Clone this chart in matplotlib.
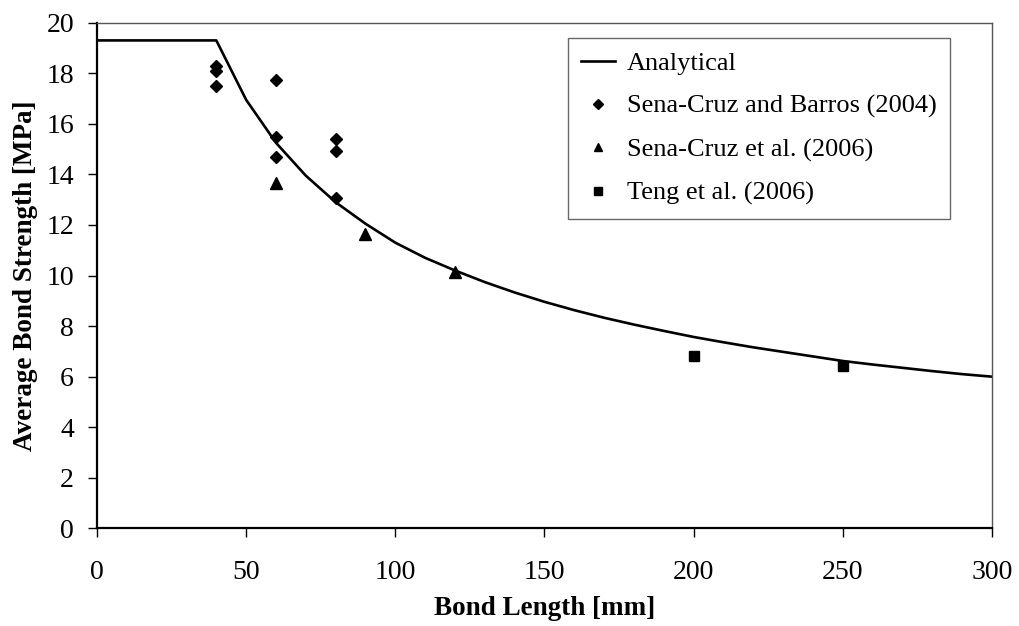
import matplotlib.pyplot as plt

plt.rcParams["font.family"] = ["Liberation Serif", "DejaVu Serif"]

# analytical curve, every 10 mm
length_model = [0, 40, 50, 60, 70, 80, 90, 100, 110, 120, 130, 140, 150, 160,
                170, 180, 190, 200, 210, 220, 230, 240, 250, 260, 270, 280, 290, 300]
strength_model = [19.3, 19.3, 16.95, 15.25, 13.95, 12.9, 12.05, 11.3, 10.7, 10.2,
                  9.74, 9.33, 8.96, 8.63, 8.33, 8.06, 7.81, 7.57, 7.36, 7.16,
                  6.98, 6.8, 6.62, 6.48, 6.35, 6.22, 6.1, 6.0]

# Sena-Cruz and Barros (2004)
length_scb = [40, 40, 40, 60, 60, 60, 80, 80, 80]
strength_scb = [18.3, 18.1, 17.5, 17.73, 15.47, 14.7, 15.4, 14.92, 13.08]

# Sena-Cruz et al. (2006)
length_sc = [60, 90, 120]
strength_sc = [13.65, 11.64, 10.15]

# Teng et al. (2006)
length_teng = [200, 250]
strength_teng = [6.83, 6.43]

fig = plt.figure(figsize=(10.2, 6.26), dpi=100)
ax = fig.add_axes([0.0951, 0.156, 0.8774, 0.8077])

ax.plot(length_model, strength_model, color="black", lw=1.9, label="Analytical")
ax.plot(length_scb, strength_scb, "D", color="black", ms=6, ls="none",
        label="Sena-Cruz and Barros (2004)")
ax.plot(length_sc, strength_sc, "^", color="black", ms=8, ls="none",
        label="Sena-Cruz et al. (2006)")
ax.plot(length_teng, strength_teng, "s", color="black", ms=7.5, ls="none",
        label="Teng et al. (2006)")

ax.set_xlim(0, 300)
ax.set_ylim(0, 20)
ax.set_xticks(range(0, 301, 50))
ax.set_yticks(range(0, 21, 2))
ax.tick_params(direction="out", length=6.5, width=1, labelsize=20, colors="black")
ax.tick_params(axis="x", pad=16)
ax.tick_params(axis="y", pad=10)

for side in ["left", "bottom"]:
    ax.spines[side].set_linewidth(1.6)
    ax.spines[side].set_color("black")
for side in ["top", "right"]:
    ax.spines[side].set_linewidth(1.0)
    ax.spines[side].set_color("#555555")

ax.set_xlabel("Bond Length [mm]", fontsize=19.5, fontweight="bold", labelpad=8)
ax.set_ylabel("Average Bond Strength [MPa]", fontsize=19.5, fontweight="bold", labelpad=6)

leg = ax.legend(loc="upper left", bbox_to_anchor=(0.526, 0.969), fontsize=19,
                frameon=True, fancybox=False, borderpad=0.5, labelspacing=0.74,
                handlelength=1.3, handletextpad=0.45, borderaxespad=0,
                numpoints=1, markerscale=0.8)
leg.get_frame().set_edgecolor("#444444")
leg.get_frame().set_linewidth(1.0)

plt.savefig("out.png", dpi=100)
